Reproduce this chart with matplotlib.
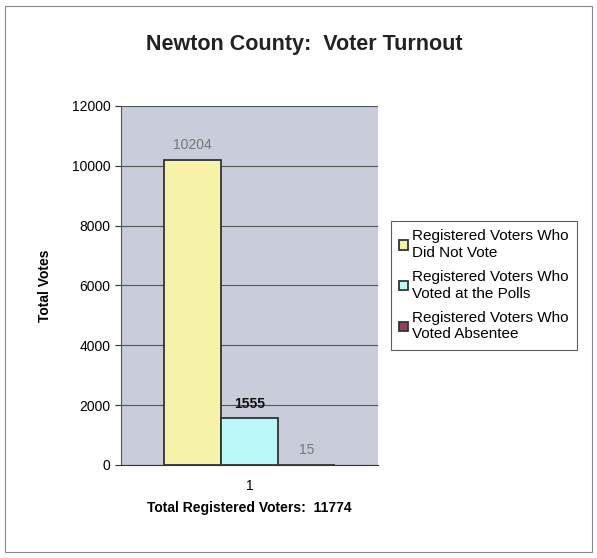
import numpy as np
import matplotlib
matplotlib.use('Agg')
import matplotlib.pyplot as plt
from matplotlib.patches import Rectangle

plt.rcParams['font.family'] = ['Liberation Sans', 'DejaVu Sans']

categories = ['1']
series = [
    'Registered Voters Who\nDid Not Vote',
    'Registered Voters Who\nVoted at the Polls',
    'Registered Voters Who\nVoted Absentee',
]
values = [10204, 1555, 15]
colors = ['#f6f3a9', '#b9f9f7', '#9a3a5c']
label_colors = ['#777777', '#111111', '#777777']
total_registered = 11774

fig = plt.figure(figsize=(5.97, 5.58), dpi=100)
fig.patches.append(Rectangle((0.008, 0.01), 0.984, 0.98, transform=fig.transFigure,
                             fill=False, edgecolor='#888888', linewidth=0.8))

ax = fig.add_axes([0.2027, 0.1667, 0.4305, 0.6434])
ax.set_facecolor('#c9ccd9')

w = 0.222
for i, (v, c) in enumerate(zip(values, colors)):
    x = 1 + (i - 1) * w
    ax.bar(x, v, width=w, color=c, edgecolor='#333333', linewidth=1.3, zorder=3,
           label=series[i])
    ax.text(x, v + 250, str(v), ha='center', va='bottom', fontsize=10,
            color=label_colors[i], fontweight='bold' if i == 1 else 'normal')

ax.set_xlim(0.5, 1.5)
ax.set_ylim(0, 12000)
ax.set_yticks(np.arange(0, 12001, 2000))
ax.set_xticks([1])
ax.set_xticklabels(categories)
ax.yaxis.grid(True, color='#555555', linewidth=0.8, zorder=0)
ax.tick_params(axis='both', labelsize=10, direction='out', length=4, color='#333333')
ax.tick_params(axis='x', length=0, pad=10)
for s in ['top', 'right']:
    ax.spines[s].set_visible(False)
ax.spines['left'].set_color('#555555')
ax.spines['bottom'].set_color('#333333')

ax.set_ylabel('Total Votes', fontsize=10, fontweight='bold', labelpad=14)
ax.set_xlabel('Total Registered Voters:  %d' % total_registered, fontsize=10,
              fontweight='bold', labelpad=6)
fig.text(0.51, 0.92, 'Newton County:  Voter Turnout', ha='center', va='center',
         fontsize=15.5, fontweight='bold', color='#222222')

leg = ax.legend(loc='center left', bbox_to_anchor=(1.05, 0.50), fontsize=11,
                frameon=True, fancybox=False, handlelength=0.6, handleheight=0.6,
                handletextpad=0.25, borderpad=0.55, labelspacing=0.7,
                borderaxespad=0.0)
leg.get_frame().set_edgecolor('#333333')
leg.get_frame().set_linewidth(0.8)

plt.savefig('out.png', dpi=100)
